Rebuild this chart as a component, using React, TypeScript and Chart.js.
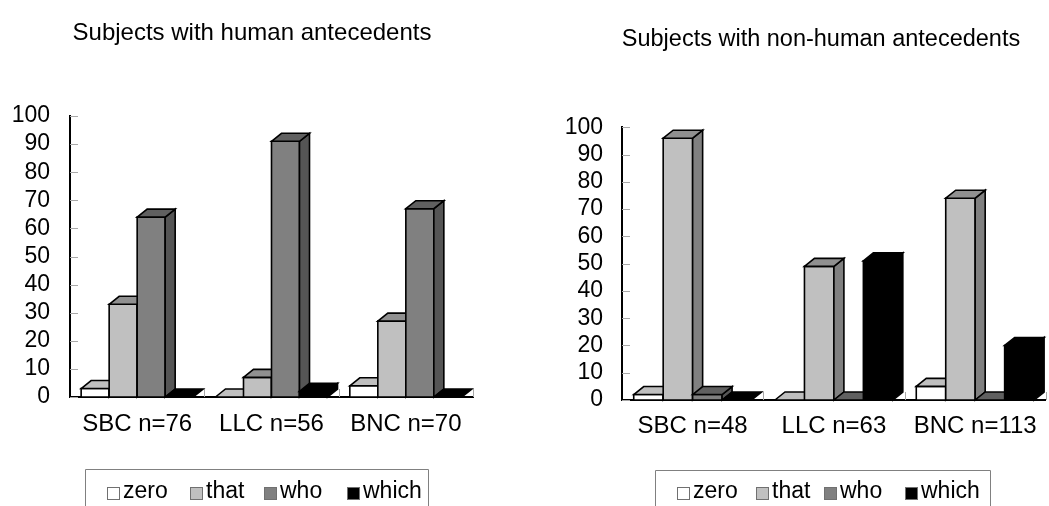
import React, { useEffect, useRef } from 'react';
import { Chart, registerables } from 'chart.js';

Chart.register(...registerables);

// ---------- data ----------
const seriesNames = ['zero', 'that', 'who', 'which'];
const seriesColors = ['#ffffff', '#c0c0c0', '#808080', '#000000'];

const humanTitle = 'Subjects with human antecedents';
const humanCategories = ['SBC n=76', 'LLC n=56', 'BNC n=70'];
const humanZero = [3, 0, 4];
const humanThat = [33, 7, 27];
const humanWho = [64, 91, 67];
const humanWhich = [0, 2, 0];

const nonHumanTitle = 'Subjects with non-human antecedents';
const nonHumanCategories = ['SBC n=48', 'LLC n=63', 'BNC n=113'];
const nonHumanZero = [2, 0, 5];
const nonHumanThat = [96, 49, 74];
const nonHumanWho = [2, 0, 0];
const nonHumanWhich = [0, 51, 20];

const yMin = 0;
const yMax = 100;
const yStep = 10;

// ---------- styling helpers ----------
const FONT = '"Liberation Sans", Arial, "DejaVu Sans", sans-serif';
const TICK_SIZE = 23;
const LABEL_SIZE = 24;
const LEGEND_SIZE = 23;

function shade(hex: string, f: number): string {
  const n = parseInt(hex.slice(1), 16);
  const r = Math.round(((n >> 16) & 255) * f);
  const g = Math.round(((n >> 8) & 255) * f);
  const b = Math.round((n & 255) * f);
  return `rgb(${r},${g},${b})`;
}

const DX = 10;
const DY = 8;

const bars3d = {
  id: 'bars3d',
  beforeDatasetDraw() {
    return false;
  },
  afterDatasetsDraw(chart: any) {
    const ctx = chart.ctx as CanvasRenderingContext2D;
    const n = chart.data.labels.length;
    ctx.save();
    ctx.lineWidth = 1.6;
    ctx.strokeStyle = '#000';
    ctx.lineJoin = 'miter';
    for (let i = 0; i < n; i++) {
      for (let d = 0; d < chart.data.datasets.length; d++) {
        const meta = chart.getDatasetMeta(d);
        const el = meta.data[i];
        if (!el) continue;
        const { x, y, base, width } = el.getProps(['x', 'y', 'base', 'width'], true);
        const color = chart.data.datasets[d].backgroundColor as string;
        const x0 = x - width / 2;
        const x1 = x + width / 2;
        const h = base - y;
        if (h > 0.5) {
          ctx.fillStyle = color;
          ctx.beginPath();
          ctx.rect(x0, y, width, h);
          ctx.fill();
          ctx.stroke();
          ctx.fillStyle = shade(color, 0.667);
          ctx.beginPath();
          ctx.moveTo(x1, y);
          ctx.lineTo(x1 + DX, y - DY);
          ctx.lineTo(x1 + DX, base - DY);
          ctx.lineTo(x1, base);
          ctx.closePath();
          ctx.fill();
          ctx.stroke();
        }
        ctx.fillStyle = shade(color, 0.75);
        ctx.beginPath();
        ctx.moveTo(x0, y);
        ctx.lineTo(x0 + DX, y - DY);
        ctx.lineTo(x1 + DX, y - DY);
        ctx.lineTo(x1, y);
        ctx.closePath();
        ctx.fill();
        ctx.stroke();
      }
    }
    ctx.restore();
  },
};

const axisStubs = {
  id: 'axisStubs',
  beforeDatasetsDraw(chart: any) {
    const ctx = chart.ctx as CanvasRenderingContext2D;
    const area = chart.chartArea;
    const ys = chart.scales.y;
    const xs = chart.scales.x;
    ctx.save();
    ctx.strokeStyle = '#a8a8a8';
    ctx.lineWidth = 1;
    ys.ticks.forEach((t: any) => {
      const py = Math.round(ys.getPixelForValue(t.value)) + 0.5;
      ctx.beginPath();
      ctx.moveTo(area.left, py);
      ctx.lineTo(area.left + 8, py);
      ctx.stroke();
    });
    const n = chart.data.labels.length;
    const cw = (area.right - area.left) / n;
    for (let k = 1; k <= n; k++) {
      const px = Math.round(xs.left + k * cw) + 0.5;
      ctx.beginPath();
      ctx.moveTo(px, area.bottom);
      ctx.lineTo(px, area.bottom - 8);
      ctx.stroke();
    }
    ctx.restore();
  },
};

function makeLegendPlugin(frame: { x0: number; x1: number; y: number }, boxX: number[]) {
  return {
    id: 'panelLegend',
    afterDraw(chart: any) {
      const ctx = chart.ctx as CanvasRenderingContext2D;
      const H = chart.height;
      ctx.save();
      ctx.strokeStyle = '#808080';
      ctx.lineWidth = 1;
      ctx.beginPath();
      ctx.moveTo(frame.x0 + 0.5, H);
      ctx.lineTo(frame.x0 + 0.5, frame.y + 0.5);
      ctx.lineTo(frame.x1 + 0.5, frame.y + 0.5);
      ctx.lineTo(frame.x1 + 0.5, H);
      ctx.stroke();
      ctx.font = `${LEGEND_SIZE}px ${FONT}`;
      ctx.textBaseline = 'alphabetic';
      ctx.textAlign = 'left';
      chart.data.datasets.forEach((ds: any, i: number) => {
        const bx = boxX[i];
        ctx.fillStyle = ds.backgroundColor;
        ctx.fillRect(bx + 0.5, 487.5, 12, 12);
        ctx.strokeStyle = '#707070';
        ctx.strokeRect(bx + 0.5, 487.5, 12, 12);
        ctx.fillStyle = '#000';
        ctx.fillText(ds.label, bx + 16, 498);
      });
      ctx.restore();
    },
  };
}

interface PanelProps {
  title: string;
  titleSize: number;
  categories: string[];
  series: number[][];
  left: number;
  width: number;
  padLeft: number;
  padRight: number;
  padBottom: number;
  titleTop: number;
  titleBottom: number;
  yScaleWidth: number;
  yLabelPad: number;
  xLabelPad: number;
  legendFrame: { x0: number; x1: number; y: number };
  legendBoxX: number[];
}

function Panel(p: PanelProps) {
  const ref = useRef<HTMLCanvasElement | null>(null);
  useEffect(() => {
    if (!ref.current) return;
    const tickFont = { family: FONT, size: TICK_SIZE, weight: 'normal' as const };
    const labelFont = { family: FONT, size: LABEL_SIZE, weight: 'normal' as const };
    const titleFont = { family: FONT, size: p.titleSize, weight: 'normal' as const, lineHeight: 1.2 };
    const chart = new Chart(ref.current, {
      type: 'bar',
      data: {
        labels: p.categories,
        datasets: p.series.map((vals, i) => ({
          label: seriesNames[i],
          data: vals,
          backgroundColor: seriesColors[i],
          borderWidth: 0,
          categoryPercentage: 0.834,
          barPercentage: 1,
        })),
      },
      options: {
        responsive: false,
        animation: false,
        devicePixelRatio: 1,
        layout: { padding: { left: p.padLeft, right: p.padRight, top: 0, bottom: p.padBottom } },
        plugins: {
          legend: { display: false },
          tooltip: { enabled: false },
          title: {
            display: true,
            text: p.title,
            color: '#000',
            font: titleFont,
            padding: { top: p.titleTop, bottom: p.titleBottom },
          },
        },
        scales: {
          x: {
            type: 'category',
            offset: true,
            grid: { display: false, drawTicks: false },
            border: { display: true, color: '#000', width: 2 },
            ticks: { color: '#000', font: labelFont, padding: p.xLabelPad, maxRotation: 0, autoSkip: false },
            afterFit: (s: any) => {
              s.height = 45;
            },
          },
          y: {
            min: yMin,
            max: yMax,
            grid: { display: false, drawTicks: false },
            border: { display: true, color: '#000', width: 2 },
            ticks: { stepSize: yStep, color: '#000', font: tickFont, padding: p.yLabelPad, autoSkip: false },
            afterFit: (s: any) => {
              s.width = p.yScaleWidth;
              s._computeLabelArea = () => undefined;
            },
          },
        },
      },
      plugins: [axisStubs, bars3d, makeLegendPlugin(p.legendFrame, p.legendBoxX)],
    } as any);
    return () => chart.destroy();
  }, []);
  return (
    <canvas
      ref={ref}
      width={p.width}
      height={506}
      style={{ position: 'absolute', left: p.left, top: 0, width: p.width, height: 506, display: 'block' }}
    />
  );
}

export default function App() {
  return (
    <div style={{ position: 'absolute', left: 0, top: 0, width: 1049, height: 506, background: '#fff', overflow: 'hidden' }}>
      <Panel
        title={humanTitle}
        titleSize={24}
        categories={humanCategories}
        series={[humanZero, humanThat, humanWho, humanWhich]}
        left={0}
        width={520}
        padLeft={31}
        padRight={47}
        padBottom={64}
        titleTop={19}
        titleBottom={68.2}
        yScaleWidth={39}
        yLabelPad={20}
        xLabelPad={13}
        legendFrame={{ x0: 85, x1: 428, y: 469 }}
        legendBoxX={[107, 190, 264, 347]}
      />
      <Panel
        title={nonHumanTitle}
        titleSize={23.5}
        categories={nonHumanCategories}
        series={[nonHumanZero, nonHumanThat, nonHumanWho, nonHumanWhich]}
        left={520}
        width={529}
        padLeft={75}
        padRight={2}
        padBottom={61}
        titleTop={25}
        titleBottom={74.1}
        yScaleWidth={27}
        yLabelPad={19}
        xLabelPad={12}
        legendFrame={{ x0: 135, x1: 470, y: 470 }}
        legendBoxX={[157, 236, 304, 385]}
      />
    </div>
  );
}
